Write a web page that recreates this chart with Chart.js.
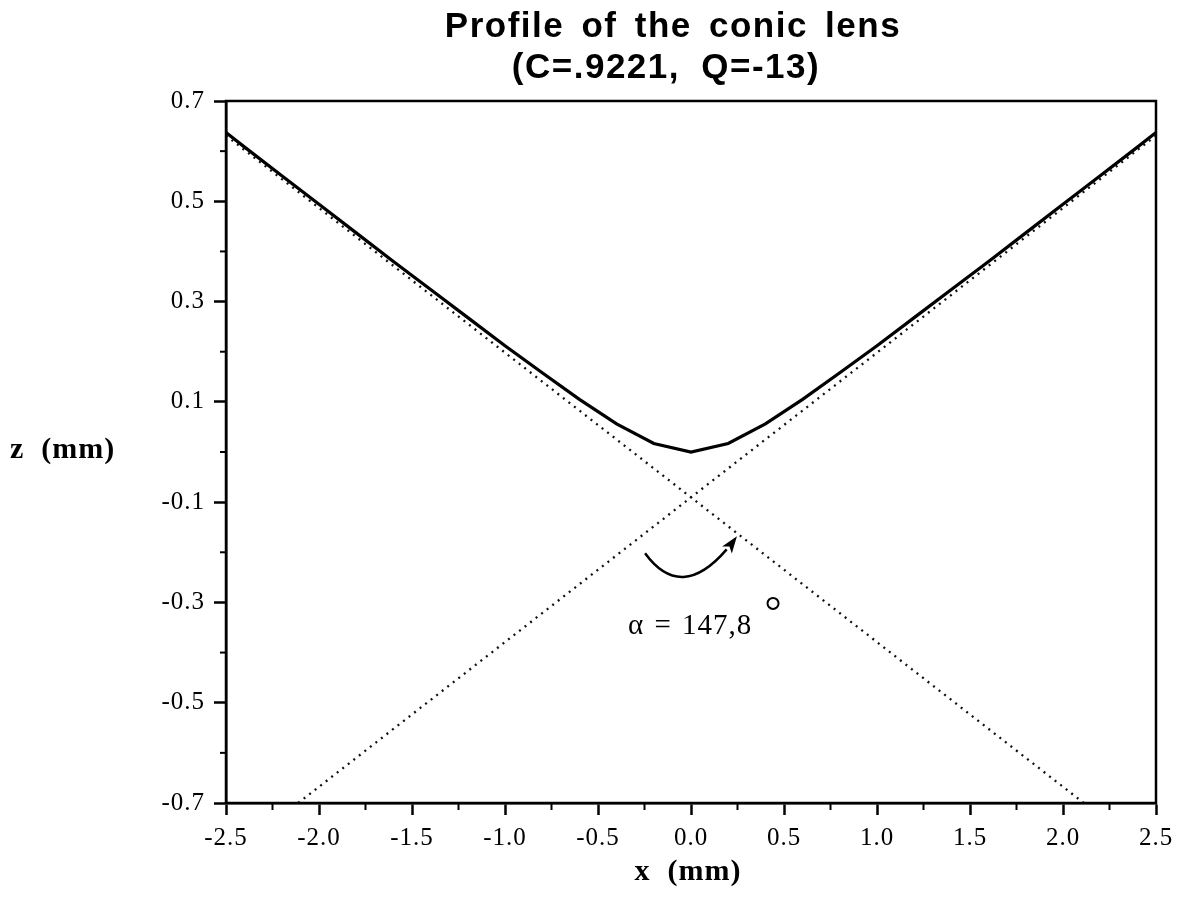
<!DOCTYPE html>
<html>
<head>
<meta charset="utf-8">
<script src="https://cdn.jsdelivr.net/npm/chart.js@4.4.1/dist/chart.umd.min.js"></script>
<style>
  html, body { margin: 0; padding: 0; background: #fff; }
  #wrap { width: 1180px; height: 912px; position: relative; }
</style>
</head>
<body>
<div id="wrap"><canvas id="c" width="1180" height="912"></canvas></div>
<script>
// Lens sag profile (solid) and its two asymptotes (dotted), in mm
const profileX = [-2.5, -2.4, -2.2, -2.0, -1.8, -1.6, -1.4, -1.2, -1.0, -0.8, -0.6, -0.4, -0.2, 0.0,
                  0.2, 0.4, 0.6, 0.8, 1.0, 1.2, 1.4, 1.6, 1.8, 2.0, 2.2, 2.4, 2.5];
const profileZ = [0.637, 0.608, 0.551, 0.494, 0.437, 0.380, 0.324, 0.268, 0.212, 0.158, 0.105, 0.056, 0.017, 0.0,
                  0.017, 0.056, 0.105, 0.158, 0.212, 0.268, 0.324, 0.380, 0.437, 0.494, 0.551, 0.608, 0.637];
const asymptoteDownX = [-2.5, 2.112];
const asymptoteDownZ = [0.631, -0.7];
const asymptoteUpX = [-2.112, 2.5];
const asymptoteUpZ = [-0.7, 0.631];

const xTicks = [-2.5, -2.0, -1.5, -1.0, -0.5, 0.0, 0.5, 1.0, 1.5, 2.0, 2.5];
const yTicks = [-0.7, -0.5, -0.3, -0.1, 0.1, 0.3, 0.5, 0.7];

const titleLines = ['Profile of the conic lens', '(C=.9221, Q=-13)'];
const xTitle = 'x  (mm)';
const yTitle = 'z  (mm)';
const angleLabel = 'α = 147,8';

const pts = (xs, ys) => xs.map((x, i) => ({ x: x, y: ys[i] }));

const SERIF = '"Liberation Serif", "Times New Roman", serif';
const SANS = '"Liberation Sans", Arial, sans-serif';

// Tick labels are set a little loosely
const spacing = {
  id: 'spacing',
  beforeDraw(chart) { chart.ctx.letterSpacing = '1px'; }
};

// Frame, minor ticks, titles and the angle annotation
const decorations = {
  id: 'decorations',
  afterDraw(chart) {
    const { ctx, chartArea: a, scales: { x, y } } = chart;
    ctx.save();
    ctx.letterSpacing = '0px';
    ctx.strokeStyle = '#000';
    ctx.lineWidth = 2.5;
    ctx.strokeRect(a.left, a.top, a.right - a.left, a.bottom - a.top);

    // minor ticks half way between labelled ones
    ctx.lineWidth = 2;
    for (let i = 0; i < xTicks.length - 1; i++) {
      const px = x.getPixelForValue((xTicks[i] + xTicks[i + 1]) / 2);
      ctx.beginPath(); ctx.moveTo(px, a.bottom); ctx.lineTo(px, a.bottom + 7); ctx.stroke();
    }
    for (let i = 0; i < yTicks.length - 1; i++) {
      const py = y.getPixelForValue((yTicks[i] + yTicks[i + 1]) / 2);
      ctx.beginPath(); ctx.moveTo(a.left, py); ctx.lineTo(a.left - 6, py); ctx.stroke();
    }

    // chart title
    ctx.fillStyle = '#000';
    ctx.textAlign = 'center';
    ctx.textBaseline = 'middle';
    ctx.font = 'bold 35px ' + SANS;
    ctx.letterSpacing = '1.5px';
    ctx.wordSpacing = '6px';
    ctx.fillText(titleLines[0], 673, 27);
    ctx.wordSpacing = '10px';
    ctx.fillText(titleLines[1], 666, 68);
    ctx.wordSpacing = '0px';

    // axis titles
    ctx.font = 'bold 30px ' + SERIF;
    ctx.letterSpacing = '1px';
    ctx.fillText(xTitle, 688, 872);
    ctx.textAlign = 'left';
    ctx.fillText(yTitle, 10, 450);

    // angle arrow between the asymptotes
    ctx.letterSpacing = '0px';
    const p0 = { x: x.getPixelForValue(-0.247), y: y.getPixelForValue(-0.202) };
    const pm = { x: x.getPixelForValue(-0.016), y: y.getPixelForValue(-0.248) };
    const p2 = { x: x.getPixelForValue(0.247), y: y.getPixelForValue(-0.168) };
    const cx = 2 * pm.x - 0.5 * (p0.x + p2.x);
    const cy = 2 * pm.y - 0.5 * (p0.y + p2.y);
    ctx.lineWidth = 2.5;
    ctx.beginPath();
    ctx.moveTo(p0.x, p0.y);
    // stop the stroke short of the tip so the arrowhead stays sharp
    const t = 0.9;
    const ex = (1 - t) * (1 - t) * p0.x + 2 * (1 - t) * t * cx + t * t * p2.x;
    const ey = (1 - t) * (1 - t) * p0.y + 2 * (1 - t) * t * cy + t * t * p2.y;
    const c1x = p0.x + t * (cx - p0.x), c1y = p0.y + t * (cy - p0.y);
    ctx.quadraticCurveTo(c1x, c1y, ex, ey);
    ctx.stroke();
    const dx = p2.x - cx, dy = p2.y - cy;
    const len = Math.hypot(dx, dy);
    const ux = dx / len, uy = dy / len;
    const hl = 17, hw = 6;
    ctx.beginPath();
    ctx.moveTo(p2.x, p2.y);
    ctx.lineTo(p2.x - ux * hl - uy * hw, p2.y - uy * hl + ux * hw);
    ctx.lineTo(p2.x - ux * hl * 0.75, p2.y - uy * hl * 0.75);
    ctx.lineTo(p2.x - ux * hl + uy * hw, p2.y - uy * hl - ux * hw);
    ctx.closePath();
    ctx.fill();

    ctx.font = '29px ' + SERIF;
    ctx.letterSpacing = '1px';
    ctx.wordSpacing = '2px';
    ctx.textAlign = 'left';
    ctx.textBaseline = 'alphabetic';
    ctx.fillText(angleLabel, x.getPixelForValue(-0.339), y.getPixelForValue(-0.362));
    ctx.wordSpacing = '0px';
    ctx.lineWidth = 2;
    ctx.beginPath();
    ctx.arc(x.getPixelForValue(0.441), y.getPixelForValue(-0.302), 5.5, 0, Math.PI * 2);
    ctx.stroke();
    ctx.restore();
  }
};

new Chart(document.getElementById('c'), {
  type: 'line',
  data: {
    datasets: [
      {
        data: pts(asymptoteDownX, asymptoteDownZ),
        borderColor: '#111', borderWidth: 2.3, borderDash: [2, 5], pointRadius: 0, fill: false
      },
      {
        data: pts(asymptoteUpX, asymptoteUpZ),
        borderColor: '#111', borderWidth: 2.3, borderDash: [2, 5], pointRadius: 0, fill: false
      },
      {
        data: pts(profileX, profileZ),
        borderColor: '#000', borderWidth: 3.2, pointRadius: 0, fill: false, tension: 0
      }
    ]
  },
  options: {
    responsive: false,
    animation: false,
    events: [],
    layout: { padding: { left: 0, top: 101, right: 24, bottom: 0 } },
    plugins: { legend: { display: false }, title: { display: false }, tooltip: { enabled: false } },
    scales: {
      x: {
        type: 'linear', min: -2.5, max: 2.5,
        afterFit: s => { s.height = 109; },
        afterBuildTicks: s => { s.ticks = xTicks.map(v => ({ value: v })); },
        border: { display: true, color: '#000', width: 2.5 },
        grid: { drawOnChartArea: false, drawTicks: true, tickLength: 12, tickColor: '#000', tickWidth: 2.5 },
        ticks: {
          color: '#000', font: { family: SERIF, size: 25 }, padding: 8, maxRotation: 0,
          callback: v => v.toFixed(1)
        }
      },
      y: {
        type: 'linear', min: -0.7, max: 0.7,
        afterFit: s => { s.width = 226; },
        afterBuildTicks: s => { s.ticks = yTicks.map(v => ({ value: v })); },
        border: { display: true, color: '#000', width: 2.5 },
        grid: { drawOnChartArea: false, drawTicks: true, tickLength: 12, tickColor: '#000', tickWidth: 2.5 },
        ticks: {
          color: '#000', font: { family: SERIF, size: 25 }, padding: 9,
          callback: v => v.toFixed(1)
        }
      }
    }
  },
  plugins: [spacing, decorations]
});
</script>
</body>
</html>
